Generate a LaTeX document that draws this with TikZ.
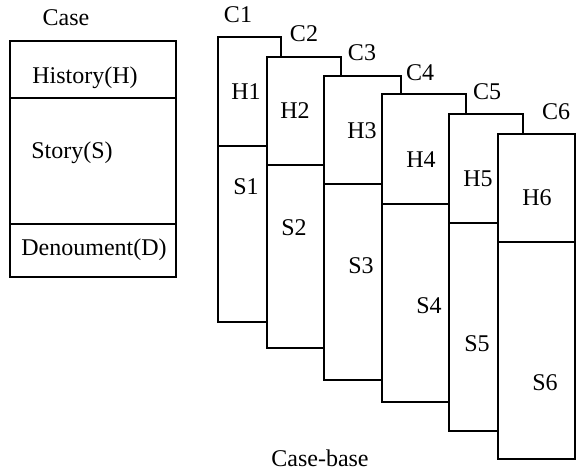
\documentclass[tikz,border=0pt]{standalone}
\usepackage{fontspec}
\setmainfont{Liberation Serif}
\begin{document}
\begin{tikzpicture}[x=1pt,y=-1pt,
  box/.style={draw=black,line width=1.5pt,fill=white},
  rule/.style={draw=black,line width=1.5pt},
  lbl/.style={font=\fontsize{24}{28}\selectfont,inner sep=0pt,text height=16pt,text depth=0pt,anchor=center}]
\useasboundingbox (0,0) rectangle (576,471);

% single case with its three parts
\draw[box] (10,41) rectangle (176,277);
\draw[rule] (10,98) -- (176,98);
\draw[rule] (10,224) -- (176,224);
\node[lbl] (case) at (66,17) {Case};
\node[lbl] (hist) at (85,75) {History(H)};
\node[lbl] (story) at (72,150) {Story(S)};
\node[lbl] (denou) at (94,247) {Denoument(D)};

% stacked cases of the case-base: left/top/right/divider/bottom, then label positions
\foreach \i/\l/\t/\r/\d/\b/\cx/\cy/\hx/\hy/\sx/\sy in {
  1/218/37/281/146/322/238/15/246/91/246/186,
  2/267/57/341/165/348/304/33/295/110/294/227,
  3/324/76/401/184/380/362/52/362/130/361/265,
  4/382/94/466/204/402/420/72/421/159/429/305,
  5/449/114/523/223/431/487/91/478/178/477/343,
  6/498/134/575/242/459/556/111/537/197/545/382}{
  \draw[box] (\l,\t) rectangle (\r,\b);
  \draw[rule] (\l,\d) -- (\r,\d);
  \node[lbl] (c\i) at (\cx,\cy) {C\i};
  \node[lbl] (h\i) at (\hx,\hy) {H\i};
  \node[lbl] (s\i) at (\sx,\sy) {S\i};
}
\node[lbl] (cb) at (320,458) {Case-base};
\end{tikzpicture}
\end{document}
